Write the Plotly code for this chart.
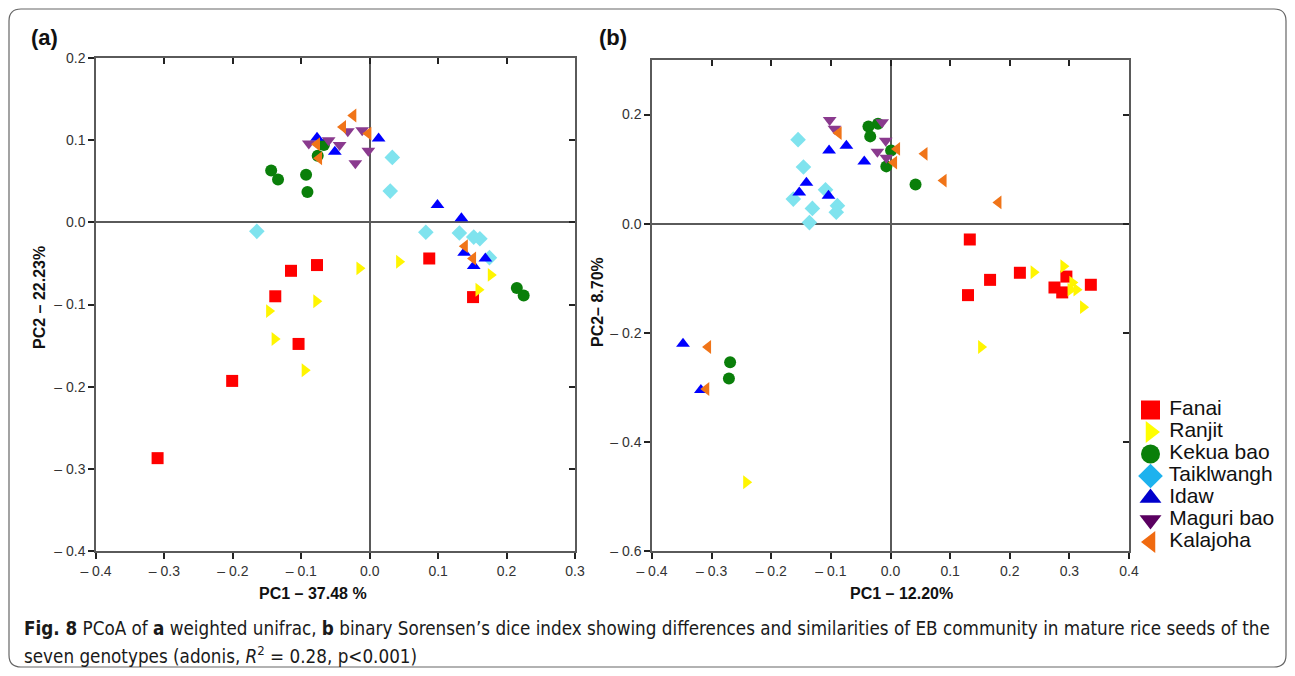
import plotly.graph_objects as go

W, H = 1295, 676

genotypes = ["Fanai", "Ranjit", "Kekua bao", "Taiklwangh", "Idaw", "Maguri bao", "Kalajoha"]
symbols = ["square", "triangle-right", "circle", "diamond", "triangle-up", "triangle-down", "triangle-left"]
plot_colors = ["#FF0000", "#FFF500", "#0A7F0A", "#7FE3EE", "#0000FF", "#8A3A8E", "#F07418"]
legend_colors = ["#FF0000", "#FFFF00", "#0A7F0A", "#1DB2EE", "#0000CC", "#5A0060", "#F06A10"]
legend_rows = [0, 1, 2, 3, 4, 5, 6]

# Panel (a): weighted unifrac PCoA
a_x = {
    "Fanai": [-0.310, -0.201, -0.138, -0.115, -0.077, -0.104, 0.087, 0.151],
    "Ranjit": [-0.147, -0.139, -0.095, -0.078, -0.015, 0.043, 0.177, 0.159],
    "Kekua bao": [-0.144, -0.134, -0.093, -0.091, -0.076, -0.067, 0.215, 0.225],
    "Taiklwangh": [-0.165, 0.030, 0.033, 0.082, 0.131, 0.152, 0.161, 0.175],
    "Idaw": [-0.077, -0.051, 0.013, 0.099, 0.134, 0.138, 0.152, 0.169],
    "Maguri bao": [-0.089, -0.060, -0.044, -0.032, -0.011, -0.002, -0.021],
    "Kalajoha": [-0.024, -0.039, -0.002, -0.077, -0.074, 0.139, 0.151],
}
a_y = {
    "Fanai": [-0.287, -0.193, -0.090, -0.059, -0.052, -0.148, -0.044, -0.091],
    "Ranjit": [-0.108, -0.142, -0.180, -0.096, -0.056, -0.048, -0.064, -0.082],
    "Kekua bao": [0.063, 0.052, 0.058, 0.037, 0.081, 0.094, -0.080, -0.089],
    "Taiklwangh": [-0.011, 0.038, 0.079, -0.012, -0.013, -0.018, -0.020, -0.043],
    "Idaw": [0.103, 0.086, 0.102, 0.021, 0.005, -0.037, -0.053, -0.044],
    "Maguri bao": [0.096, 0.100, 0.094, 0.111, 0.112, 0.087, 0.072],
    "Kalajoha": [0.130, 0.116, 0.108, 0.095, 0.078, -0.029, -0.044],
}

# Panel (b): binary Sorensen dice PCoA
b_x = {
    "Fanai": [0.133, 0.167, 0.217, 0.130, 0.295, 0.275, 0.288, 0.336],
    "Ranjit": [0.152, 0.240, 0.290, 0.305, 0.302, 0.312, 0.323, -0.242],
    "Kekua bao": [-0.037, -0.021, -0.034, 0.001, -0.007, 0.042, -0.269, -0.271],
    "Taiklwangh": [-0.155, -0.146, -0.109, -0.163, -0.131, -0.089, -0.091, -0.136],
    "Idaw": [-0.103, -0.074, -0.044, -0.141, -0.153, -0.104, -0.348, -0.318],
    "Maguri bao": [-0.102, -0.094, -0.014, -0.008, -0.022, -0.007],
    "Kalajoha": [-0.087, 0.011, 0.006, 0.057, 0.089, 0.181, -0.306, -0.309],
}
b_y = {
    "Fanai": [-0.029, -0.103, -0.090, -0.131, -0.097, -0.117, -0.126, -0.112],
    "Ranjit": [-0.226, -0.089, -0.078, -0.108, -0.121, -0.121, -0.153, -0.474],
    "Kekua bao": [0.178, 0.183, 0.160, 0.134, 0.105, 0.072, -0.254, -0.284],
    "Taiklwangh": [0.154, 0.104, 0.062, 0.045, 0.028, 0.033, 0.021, 0.002],
    "Idaw": [0.134, 0.143, 0.114, 0.075, 0.057, 0.051, -0.220, -0.305],
    "Maguri bao": [0.190, 0.174, 0.186, 0.152, 0.132, 0.121],
    "Kalajoha": [0.166, 0.137, 0.112, 0.128, 0.079, 0.039, -0.226, -0.303],
}

a_xticks = [-0.4, -0.3, -0.2, -0.1, 0.0, 0.1, 0.2, 0.3]
a_yticks = [-0.4, -0.3, -0.2, -0.1, 0.0, 0.1, 0.2]
b_xticks = [-0.4, -0.3, -0.2, -0.1, 0.0, 0.1, 0.2, 0.3, 0.4]
b_yticks = [-0.6, -0.4, -0.2, 0.0, 0.2]


def lab(v):
    return ("\u2013 %.1f" % abs(v)) if v < 0 else "%.1f" % v


fig = go.Figure()

for i, g in enumerate(genotypes):
    mk = dict(symbol=symbols[i], color=plot_colors[i], size=12, line=dict(width=0))
    fig.add_trace(go.Scatter(x=a_x[g], y=a_y[g], mode="markers", marker=mk, name=g,
                             showlegend=False, xaxis="x", yaxis="y", cliponaxis=False))
    fig.add_trace(go.Scatter(x=b_x[g], y=b_y[g], mode="markers", marker=mk, name=g,
                             showlegend=False, xaxis="x2", yaxis="y2", cliponaxis=False))

# key (legend) drawn on its own hidden axes
fig.add_trace(go.Scatter(
    x=[0.07] * len(genotypes), y=legend_rows, mode="markers+text",
    text=[" " + g for g in genotypes], textposition="middle right",
    textfont=dict(family="Liberation Sans, Arial, sans-serif", size=21, color="#111111"),
    marker=dict(symbol=symbols, color=legend_colors, size=19, line=dict(width=0)),
    showlegend=False, xaxis="x5", yaxis="y5", cliponaxis=False, hoverinfo="skip"))

# dummy traces to instantiate mirrored axes
fig.add_trace(go.Scatter(x=[None], y=[None], showlegend=False, xaxis="x3", yaxis="y3"))
fig.add_trace(go.Scatter(x=[None], y=[None], showlegend=False, xaxis="x4", yaxis="y4"))

AX = "#5a5a5a"
tickfont = dict(family="Liberation Sans, Arial, sans-serif", size=14, color="#333333")


def px_x(p):
    return p / W


def px_y(p):
    return 1 - p / H


base = dict(showgrid=False, showline=True, linecolor=AX, linewidth=1.5,
            ticklen=6, tickwidth=1.5, tickcolor="#222222", tickfont=tickfont)
hidden = dict(visible=False, showgrid=False, zeroline=False, fixedrange=True)

dom_ax = [px_x(96), px_x(575)]
dom_ay = [px_y(551), px_y(58)]
dom_bx = [px_x(652), px_x(1129)]
dom_by = [px_y(551), px_y(60)]

fig.update_layout(
    xaxis=dict(base, domain=dom_ax, anchor="y", range=[-0.4, 0.3], ticks="outside",
               tickvals=a_xticks, ticktext=[lab(v) for v in a_xticks],
               zeroline=True, zerolinecolor=AX, zerolinewidth=1.5),
    yaxis=dict(base, domain=dom_ay, anchor="x", range=[-0.4, 0.2], ticks="outside",
               tickvals=a_yticks, ticktext=[lab(v) for v in a_yticks],
               zeroline=True, zerolinecolor=AX, zerolinewidth=1.5),
    xaxis3=dict(base, overlaying="x", side="top", anchor="y3", range=[-0.4, 0.3],
                ticks="inside", tickvals=a_xticks, showticklabels=False, zeroline=False),
    yaxis3=dict(base, overlaying="y", side="right", anchor="x3", range=[-0.4, 0.2],
                ticks="inside", tickvals=a_yticks, showticklabels=False, zeroline=False),
    xaxis2=dict(base, domain=dom_bx, anchor="y2", range=[-0.4, 0.4], ticks="outside",
                tickvals=b_xticks, ticktext=[lab(v) for v in b_xticks],
                zeroline=True, zerolinecolor=AX, zerolinewidth=1.5),
    yaxis2=dict(base, domain=dom_by, anchor="x2", range=[-0.6, 0.3], ticks="outside",
                tickvals=b_yticks, ticktext=[lab(v) for v in b_yticks],
                zeroline=True, zerolinecolor=AX, zerolinewidth=1.5),
    xaxis4=dict(base, overlaying="x2", side="top", anchor="y4", range=[-0.4, 0.4],
                ticks="inside", tickvals=b_xticks, showticklabels=False, zeroline=False),
    yaxis4=dict(base, overlaying="y2", side="right", anchor="x4", range=[-0.6, 0.3],
                ticks="inside", tickvals=b_yticks, showticklabels=False, zeroline=False),
    xaxis5=dict(hidden, domain=[px_x(1140), px_x(1290)], anchor="y5", range=[0, 1]),
    yaxis5=dict(hidden, domain=[px_y(553), px_y(399)], anchor="x5", range=[6.5, -0.5]),
)

fig.update_layout(
    width=W, height=H, margin=dict(l=0, r=0, t=0, b=0, autoexpand=False),
    paper_bgcolor="white", plot_bgcolor="white",
    showlegend=False,
)

tfont = dict(family="Liberation Sans, Arial, sans-serif", size=16, color="#111111")
ann = [
    dict(text="<b>PC1 \u2013 37.48 %</b>", x=px_x(313), y=px_y(593), font=tfont),
    dict(text="<b>PC1 \u2013 12.20%</b>", x=px_x(901), y=px_y(593), font=tfont),
    dict(text="<b>PC2 \u2013 22.23%</b>", x=px_x(40), y=px_y(298), font=tfont, textangle=-90),
    dict(text="<b>PC2\u2013 8.70%</b>", x=px_x(598), y=px_y(302), font=tfont, textangle=-90),
    dict(text="<b>(a)</b>", x=px_x(44), y=px_y(38),
         font=dict(family="Liberation Sans, Arial, sans-serif", size=22, color="#111111")),
    dict(text="<b>(b)</b>", x=px_x(613), y=px_y(38),
         font=dict(family="Liberation Sans, Arial, sans-serif", size=22, color="#111111")),
]
cfont = dict(family="DejaVu Sans Condensed, Liberation Sans Narrow, Arial Narrow, sans-serif",
             size=18.7, color="#1a1a1a")
ann.append(dict(text="<b>Fig. 8</b> PCoA of <b>a</b> weighted unifrac, <b>b</b> binary Sorensen\u2019s dice index "
                     "showing differences and similarities of EB community in mature rice seeds of the",
                x=px_x(22), y=px_y(628), xanchor="left", font=cfont))
ann.append(dict(text="seven genotypes (adonis, <i>R</i><sup>2</sup> = 0.28, p&lt;0.001)",
                x=px_x(22), y=px_y(655), xanchor="left", font=cfont))

for a in ann:
    a.setdefault("xanchor", "center")
    a.update(xref="paper", yref="paper", yanchor="middle", showarrow=False)
fig.update_layout(annotations=ann)

# rounded figure border
x0, y0, x1, y1, r = px_x(9), px_y(9), px_x(1286), px_y(667), 12
rx, ry = r / W, r / H
path = (f"M {x0+rx} {y0} L {x1-rx} {y0} Q {x1} {y0} {x1} {y0-ry} "
        f"L {x1} {y1+ry} Q {x1} {y1} {x1-rx} {y1} L {x0+rx} {y1} Q {x0} {y1} {x0} {y1+ry} "
        f"L {x0} {y0-ry} Q {x0} {y0} {x0+rx} {y0} Z")
fig.update_layout(shapes=[dict(type="path", path=path, xref="paper", yref="paper",
                               line=dict(color="#666666", width=1.2))])

fig.write_html("out.html", config={"displayModeBar": False},
               post_script="document.body.style.margin='0';document.body.style.overflow='hidden';")
